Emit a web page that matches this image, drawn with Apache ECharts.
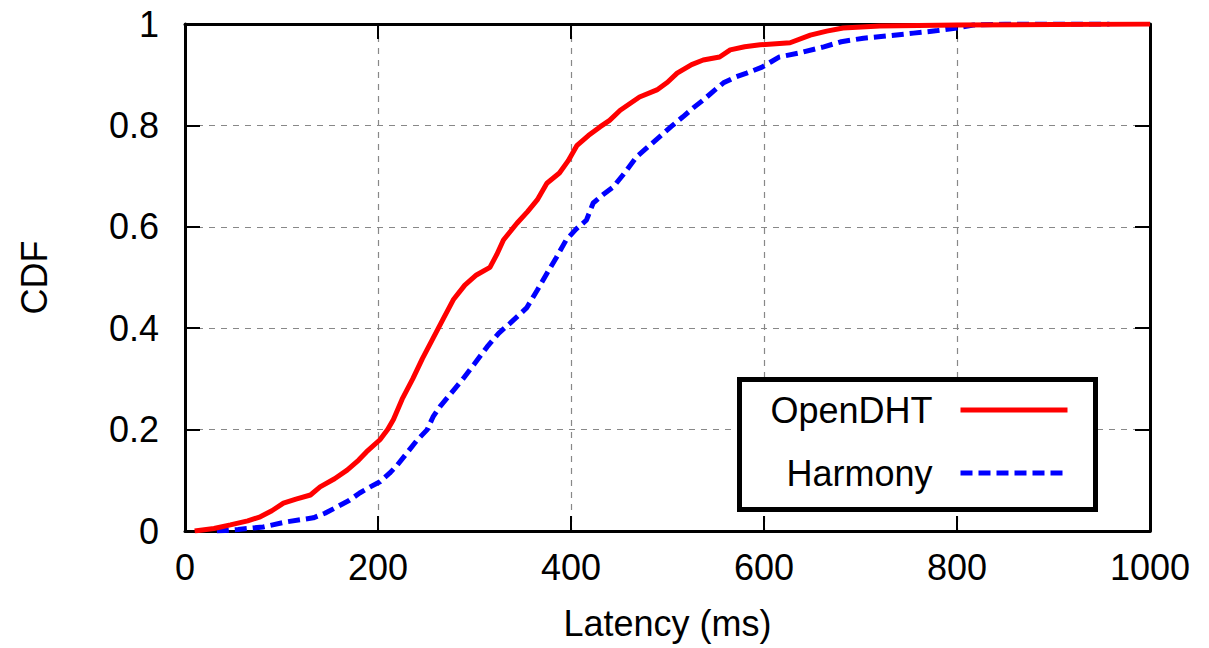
<!DOCTYPE html>
<html>
<head>
<meta charset="utf-8">
<script src="https://cdn.jsdelivr.net/npm/echarts@6/dist/echarts.min.js"></script>
<style>
html,body{margin:0;padding:0;background:#fff;}
#chart{width:1209px;height:648px;}
</style>
</head>
<body>
<div id="chart"></div>
<script>
// ---- data ----
const seriesNames = ['OpenDHT', 'Harmony'];
const xTicks = [0, 200, 400, 600, 800, 1000];
const yTicks = [0, 0.2, 0.4, 0.6, 0.8, 1];

const openX = [10, 30, 47, 65, 78, 90, 102, 115, 130, 140, 155, 168, 180, 188, 202, 210, 216, 225, 236, 246, 257, 268, 278, 290, 302, 316, 323, 330, 344, 355, 365, 375, 388, 397, 406, 418, 430, 440, 451, 471, 489, 500, 510, 525, 537, 554, 565, 580, 596, 627, 648, 665, 682, 720, 800, 900, 1000];
const openY = [0, 0.005, 0.012, 0.02, 0.028, 0.04, 0.055, 0.063, 0.071, 0.087, 0.103, 0.12, 0.14, 0.156, 0.18, 0.2, 0.22, 0.26, 0.30, 0.34, 0.38, 0.42, 0.456, 0.485, 0.505, 0.52, 0.545, 0.574, 0.607, 0.63, 0.653, 0.686, 0.706, 0.73, 0.76, 0.78, 0.797, 0.81, 0.83, 0.856, 0.87, 0.885, 0.903, 0.92, 0.929, 0.935, 0.949, 0.955, 0.959, 0.963, 0.978, 0.986, 0.992, 0.996, 0.998, 0.999, 1.0];

const harmX = [33, 55, 81, 105, 133, 145, 157, 170, 181, 192, 202, 212, 220, 230, 240, 251, 257, 264, 275, 288, 300, 313, 325, 337, 354, 365, 375, 385, 395, 405, 416, 423, 433, 444, 455, 468, 480, 492, 504, 516, 527, 537, 548, 558, 570, 582, 598, 607, 616, 637, 662, 680, 703, 730, 755, 780, 800, 817, 850, 958];
const harmY = [0, 0.003, 0.008, 0.018, 0.026, 0.035, 0.047, 0.06, 0.075, 0.087, 0.097, 0.114, 0.13, 0.154, 0.178, 0.2, 0.225, 0.245, 0.27, 0.30, 0.33, 0.363, 0.39, 0.41, 0.44, 0.475, 0.508, 0.54, 0.574, 0.595, 0.613, 0.647, 0.663, 0.679, 0.705, 0.738, 0.758, 0.778, 0.798, 0.817, 0.835, 0.85, 0.868, 0.884, 0.895, 0.903, 0.915, 0.925, 0.935, 0.943, 0.955, 0.965, 0.972, 0.977, 0.982, 0.987, 0.992, 0.998, 1.0, 1.0];

// ---- chart ----
const FONT = "'Liberation Sans', Arial, Helvetica, sans-serif";
const zip = (xs, ys) => xs.map((x, i) => [x, ys[i]]);

const chart = echarts.init(document.getElementById('chart'), null, {renderer: 'svg'});

const axisLine = {show: true, onZero: false, lineStyle: {color: '#000', width: 3}};
const axisTick = {show: true, inside: true, length: 15, lineStyle: {color: '#000', width: 2}};
const gridLine = {show: true, lineStyle: {color: '#888', width: 1.2, type: [6, 6]}};
const labelStyle = {color: '#000', fontSize: 36, fontFamily: FONT};

const legendBase = {
  orient: 'vertical', align: 'right', right: 139, padding: 0, itemGap: 0,
  itemWidth: 107, itemHeight: 14, selectedMode: false, z: 10,
  itemStyle: {opacity: 0, borderWidth: 0},
  lineStyle: {width: 5},
  textStyle: {color: '#000', fontSize: 36, fontFamily: FONT, lineHeight: 36, padding: [0, 23, 0, 0]}
};

const option = {
  backgroundColor: '#fff',
  animation: false,
  grid: {left: 185, right: 59, top: 24, bottom: 117, containLabel: false},
  xAxis: [
    {
      type: 'value', min: xTicks[0], max: xTicks[xTicks.length - 1], interval: xTicks[1] - xTicks[0],
      position: 'bottom',
      axisLine, axisTick, splitLine: gridLine,
      axisLabel: Object.assign({margin: 18, formatter: v => String(v)}, labelStyle),
      name: 'Latency (ms)', nameLocation: 'middle', nameGap: 74,
      nameTextStyle: labelStyle
    },
    {
      type: 'value', min: xTicks[0], max: xTicks[xTicks.length - 1], interval: xTicks[1] - xTicks[0],
      position: 'top',
      axisLine, axisTick, splitLine: {show: false}, axisLabel: {show: false}
    }
  ],
  yAxis: [
    {
      type: 'value', min: yTicks[0], max: yTicks[yTicks.length - 1], interval: yTicks[1] - yTicks[0],
      position: 'left',
      axisLine, axisTick, splitLine: gridLine,
      axisLabel: Object.assign({margin: 26, formatter: v => String(+v.toFixed(1))}, labelStyle),
      name: 'CDF', nameLocation: 'middle', nameGap: 133, nameRotate: 90,
      nameTextStyle: labelStyle
    },
    {
      type: 'value', min: yTicks[0], max: yTicks[yTicks.length - 1], interval: yTicks[1] - yTicks[0],
      position: 'right',
      axisLine, axisTick, splitLine: {show: false}, axisLabel: {show: false}
    }
  ],
  legend: [
    Object.assign({data: [seriesNames[0]], top: 392}, legendBase),
    Object.assign({data: [seriesNames[1]], top: 455}, legendBase)
  ],
  graphic: [
    {
      type: 'rect', left: 737, top: 377, z: 8,
      shape: {width: 356, height: 130},
      style: {fill: '#fff', stroke: '#000', lineWidth: 5}
    }
  ],
  series: [
    {
      name: seriesNames[1], type: 'line', data: zip(harmX, harmY),
      showSymbol: false, symbol: 'none', z: 3,
      lineStyle: {color: '#0000ff', width: 5, type: [12, 6]},
      itemStyle: {color: '#0000ff'}
    },
    {
      name: seriesNames[0], type: 'line', data: zip(openX, openY),
      showSymbol: false, symbol: 'none', z: 4,
      lineStyle: {color: '#ff0000', width: 5},
      itemStyle: {color: '#ff0000'}
    }
  ]
};
chart.setOption(option);
</script>
</body>
</html>
